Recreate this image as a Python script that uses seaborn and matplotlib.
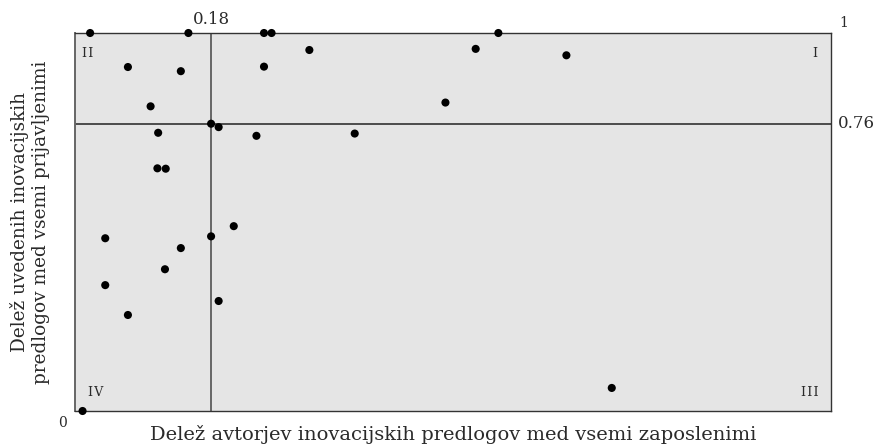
import matplotlib
matplotlib.use("Agg")
import matplotlib.pyplot as plt
import numpy as np
import pandas as pd
import seaborn as sns

# share of authors among all employees (x) vs share of implemented proposals (y)
delez_avtorjev = [0.020, 0.150, 0.250, 0.260, 0.560, 0.070, 0.140, 0.250, 0.100, 0.180,
                  0.190, 0.110, 0.240, 0.370, 0.310, 0.530, 0.650, 0.490, 0.109, 0.120,
                  0.210, 0.040, 0.180, 0.140, 0.119, 0.040, 0.190, 0.070, 0.710, 0.010]
delez_uvedenih = [1.000, 1.000, 1.000, 1.000, 1.000, 0.910, 0.899, 0.911, 0.806, 0.760,
                  0.751, 0.736, 0.728, 0.734, 0.955, 0.958, 0.941, 0.816, 0.642, 0.641,
                  0.489, 0.457, 0.462, 0.431, 0.375, 0.333, 0.291, 0.254, 0.061, 0.000]
meja_x = 0.18
meja_y = 0.76
kvadranti = ["I", "I\u200aI", "I\u200aI\u200aI", "I\u200aV"]

df = pd.DataFrame({"x": delez_avtorjev, "y": delez_uvedenih})

sns.set_style("white")
plt.rcParams["font.family"] = ["DejaVu Serif"]
txt = "#2a2a2a"

fig = plt.figure(figsize=(8.78, 4.48), dpi=100, facecolor="white")
ax = fig.add_axes([75 / 878, 37 / 448, 756 / 878, 378 / 448])
ax.set_facecolor("#e5e5e5")

ax.axvline(meja_x, color="#444444", lw=1.1, zorder=1)
ax.axhline(meja_y, color="#222222", lw=1.1, zorder=1)

sns.scatterplot(data=df, x="x", y="y", ax=ax, color="black", s=34,
                edgecolor="none", clip_on=False, zorder=3, legend=False)

ax.set_xlim(0, 1)
ax.set_ylim(0, 1)
ax.set_xticks([])
ax.set_yticks([])
ax.set_xlabel("")
ax.set_ylabel("")
for side, sp in ax.spines.items():
    sp.set_visible(True)
    sp.set_color("#333333")
    sp.set_linewidth(1.0)
ax.spines["left"].set_color("#666666")
ax.spines["left"].set_linewidth(1.4)

# quadrant labels
qkw = dict(fontsize=9, color=txt, transform=ax.transAxes, va="center")
ax.text(0.982, 0.947, kvadranti[0], ha="right", **qkw)
ax.text(0.009, 0.947, kvadranti[1], ha="left", **qkw)
ax.text(0.984, 0.048, kvadranti[2], ha="right", **qkw)
ax.text(0.017, 0.048, kvadranti[3], ha="left", **qkw)

# boundary / domain labels
ax.text(meja_x, 1.037, "0.18", ha="center", va="center", fontsize=12, color=txt, clip_on=False)
ax.text(1.009, meja_y, "0.76", ha="left", va="center", fontsize=12, color=txt, clip_on=False)
ax.text(1.011, 1.026, "1", ha="left", va="center", fontsize=10, color=txt, clip_on=False)
ax.text(-0.017, -0.032, "0", ha="center", va="center", fontsize=10, color=txt, clip_on=False)

fig.text(453 / 878, 1 - 440 / 448, "Delež avtorjev inovacijskih predlogov med vsemi zaposlenimi",
         ha="center", va="baseline", fontsize=14, color=txt)
fig.text(30 / 878, 1 - 222 / 448, "Delež uvedenih inovacijskih\npredlogov med vsemi prijavljenimi",
         ha="center", va="center", rotation=90, fontsize=13.3, color=txt, linespacing=1.25)

fig.savefig("out.png", dpi=100, facecolor="white")
plt.close(fig)
